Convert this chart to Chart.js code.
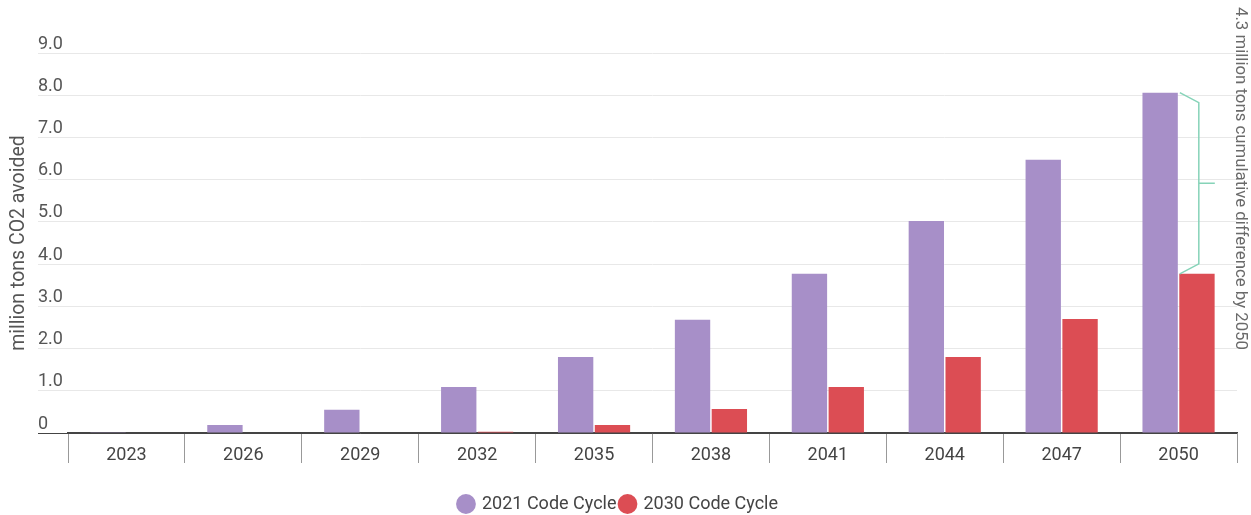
<!DOCTYPE html>
<html>
<head>
<meta charset="utf-8">
<script src="https://cdn.jsdelivr.net/npm/chart.js@4/dist/chart.umd.min.js"></script>
<style>
  html, body { margin: 0; padding: 0; background: #fff; }
  #wrap { width: 1251px; height: 515px; }
</style>
</head>
<body>
<div id="wrap"><canvas id="chart"></canvas></div>
<script>
let years = ['2023','2026','2029','2032','2035','2038','2041','2044','2047','2050'];
let cycle2021 = [0.02, 0.19, 0.55, 1.09, 1.80, 2.68, 3.77, 5.02, 6.47, 8.06];
let cycle2030 = [0, 0, 0, 0.03, 0.19, 0.57, 1.09, 1.80, 2.70, 3.77];
let yTicks = [0, 1, 2, 3, 4, 5, 6, 7, 8, 9];
let note = '4.3 million tons cumulative difference by 2050';

const font = { family: 'Roboto', size: 18 };

// bracket + side note on the right
const bracket = {
    id: 'bracket',
    afterDatasetsDraw(chart) {
        const ctx = chart.ctx;
        const ys = chart.scales.y;
        const last = years.length - 1;
        const bar = chart.getDatasetMeta(0).data[last];
        const x0 = bar.x + bar.width / 2 + 2;
        const x1 = x0 + 19;
        const yTop = ys.getPixelForValue(cycle2021[last]);
        const yBot = ys.getPixelForValue(cycle2030[last]);
        const yMid = (yTop + yBot) / 2;
        ctx.save();
        ctx.strokeStyle = '#86d3b8';
        ctx.lineWidth = 1.5;
        ctx.beginPath();
        ctx.moveTo(x0, yTop);
        ctx.lineTo(x1, yTop + 10);
        ctx.lineTo(x1, yBot - 10);
        ctx.lineTo(x0, yBot);
        ctx.moveTo(x1, yMid);
        ctx.lineTo(x1 + 16, yMid);
        ctx.stroke();

        ctx.translate(1240, 7);
        ctx.rotate(Math.PI / 2);
        ctx.fillStyle = '#6a6a6a';
        ctx.font = '16.8px Roboto';
        ctx.textAlign = 'left';
        ctx.textBaseline = 'middle';
        ctx.fillText(note, 0, 0);
        ctx.restore();
    }
};

const ctx = document.getElementById('chart').getContext('2d');
const chart = new Chart(ctx, {
    type: 'bar',
    data: {
        labels: years,
        datasets: [{
            label: '2021 Code Cycle',
            data: cycle2021,
            backgroundColor: '#a78fc8'
        }, {
            label: '2030 Code Cycle',
            data: cycle2030,
            backgroundColor: '#dc4d54'
        }]
    },
    plugins: [bracket],
    options: {
        responsive: true,
        maintainAspectRatio: false,
        animation: false,
        layout: { padding: { top: 53, right: 14, left: 0, bottom: -8 } },
        datasets: {
            bar: { categoryPercentage: 0.63, barPercentage: 0.96 }
        },
        scales: {
            x: {
                grid: {
                    offset: true,
                    drawOnChartArea: false,
                    tickLength: 30,
                    color: '#999'
                },
                border: { color: '#444', width: 1.5 },
                ticks: {
                    padding: -18,
                    color: '#444',
                    font: font
                },
                afterFit(s) { s.height = 58; }
            },
            y: {
                min: 0,
                max: 9,
                weight: 0,
                afterBuildTicks(s) { s.ticks = yTicks.map(v => ({ value: v })); },
                grid: {
                    tickLength: 30,
                    color: c => c.tick && c.tick.value === 0 ? '#444' : '#e8e8e8'
                },
                border: { display: false },
                ticks: {
                    crossAlign: 'far',
                    labelOffset: -9,
                    color: '#555',
                    font: font,
                    callback: v => v === 0 ? '0' : v.toFixed(1)
                },
                afterFit(s) { s.width = 30; }
            },
            // only holds the axis title, left of the tick labels
            yTitle: {
                type: 'linear',
                position: 'left',
                weight: 1,
                grid: { display: false },
                border: { display: false },
                ticks: { display: false },
                title: {
                    display: true,
                    text: 'million tons CO2 avoided',
                    color: '#555',
                    font: { family: 'Roboto', size: 19.5 },
                    padding: { top: 7, bottom: 0 }
                },
                afterFit(s) { s.width = 38; }
            }
        },
        plugins: {
            legend: {
                position: 'bottom',
                labels: {
                    usePointStyle: true,
                    pointStyle: 'circle',
                    boxWidth: 14,
                    boxHeight: 14,
                    padding: 4,
                    color: '#444',
                    font: font
                }
            },
            tooltip: { enabled: false }
        }
    }
});
</script>
</body>
</html>
